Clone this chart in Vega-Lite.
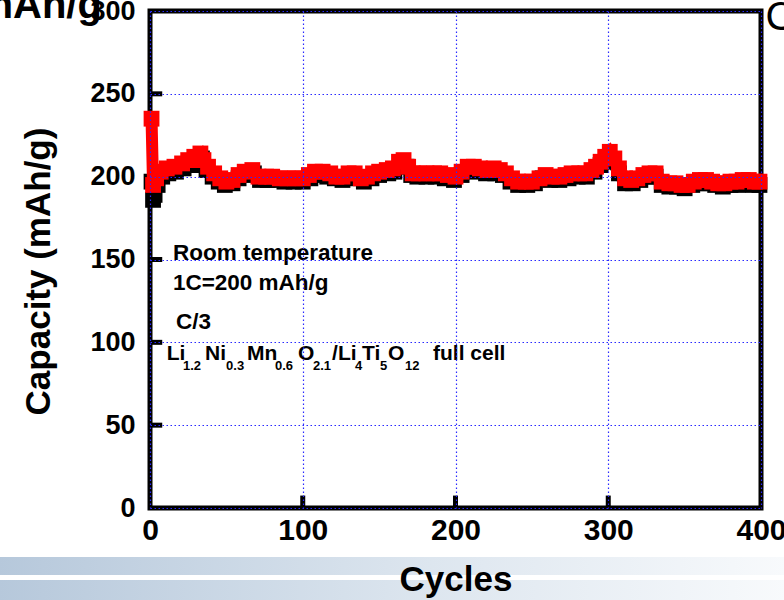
{
  "$schema": "https://vega.github.io/schema/vega-lite/v6.json",
  "width": 611,
  "height": 497,
  "autosize": {"type": "none"},
  "padding": {"left": 150, "top": 11, "right": 23, "bottom": 92},
  "background": "white",
  "config": {
    "view": {"stroke": "black", "strokeWidth": 5},
    "font": "Liberation Sans"
  },
  "datasets": {
    "red": [
      {"cycle": 1, "cap": 235}, {"cycle": 2, "cap": 195}, {"cycle": 4, "cap": 199}, {"cycle": 7, "cap": 203},
      {"cycle": 11, "cap": 205}, {"cycle": 16, "cap": 206}, {"cycle": 21, "cap": 208}, {"cycle": 25, "cap": 210},
      {"cycle": 29, "cap": 212}, {"cycle": 33, "cap": 214}, {"cycle": 35, "cap": 210}, {"cycle": 38, "cap": 206},
      {"cycle": 42, "cap": 202}, {"cycle": 46, "cap": 199}, {"cycle": 50, "cap": 197}, {"cycle": 54, "cap": 198},
      {"cycle": 58, "cap": 201}, {"cycle": 62, "cap": 203}, {"cycle": 67, "cap": 204}, {"cycle": 71, "cap": 200},
      {"cycle": 76, "cap": 200}, {"cycle": 80, "cap": 200}, {"cycle": 85, "cap": 199}, {"cycle": 90, "cap": 199},
      {"cycle": 95, "cap": 199}, {"cycle": 100, "cap": 199}, {"cycle": 104, "cap": 201}, {"cycle": 108, "cap": 203},
      {"cycle": 113, "cap": 203}, {"cycle": 118, "cap": 202}, {"cycle": 122, "cap": 200}, {"cycle": 126, "cap": 200},
      {"cycle": 130, "cap": 202}, {"cycle": 134, "cap": 202}, {"cycle": 138, "cap": 199}, {"cycle": 142, "cap": 200},
      {"cycle": 146, "cap": 202}, {"cycle": 150, "cap": 203}, {"cycle": 155, "cap": 204}, {"cycle": 159, "cap": 205},
      {"cycle": 163, "cap": 209}, {"cycle": 166, "cap": 210}, {"cycle": 169, "cap": 206}, {"cycle": 172, "cap": 202},
      {"cycle": 176, "cap": 202}, {"cycle": 181, "cap": 202}, {"cycle": 186, "cap": 202}, {"cycle": 190, "cap": 202},
      {"cycle": 195, "cap": 201}, {"cycle": 200, "cap": 200}, {"cycle": 204, "cap": 203}, {"cycle": 208, "cap": 206},
      {"cycle": 212, "cap": 206}, {"cycle": 216, "cap": 205}, {"cycle": 221, "cap": 204}, {"cycle": 225, "cap": 205},
      {"cycle": 229, "cap": 204}, {"cycle": 233, "cap": 202}, {"cycle": 237, "cap": 199}, {"cycle": 241, "cap": 197},
      {"cycle": 246, "cap": 197}, {"cycle": 250, "cap": 197}, {"cycle": 255, "cap": 199}, {"cycle": 259, "cap": 201},
      {"cycle": 263, "cap": 200}, {"cycle": 268, "cap": 200}, {"cycle": 272, "cap": 201}, {"cycle": 276, "cap": 202},
      {"cycle": 281, "cap": 202}, {"cycle": 285, "cap": 202}, {"cycle": 289, "cap": 204}, {"cycle": 292, "cap": 206},
      {"cycle": 295, "cap": 209}, {"cycle": 298, "cap": 212}, {"cycle": 301, "cap": 215}, {"cycle": 304, "cap": 211},
      {"cycle": 307, "cap": 205}, {"cycle": 311, "cap": 199}, {"cycle": 315, "cap": 198}, {"cycle": 319, "cap": 199},
      {"cycle": 323, "cap": 201}, {"cycle": 327, "cap": 202}, {"cycle": 331, "cap": 202}, {"cycle": 335, "cap": 197},
      {"cycle": 340, "cap": 196}, {"cycle": 344, "cap": 196}, {"cycle": 348, "cap": 195}, {"cycle": 352, "cap": 195},
      {"cycle": 356, "cap": 197}, {"cycle": 360, "cap": 198}, {"cycle": 364, "cap": 198}, {"cycle": 368, "cap": 197},
      {"cycle": 372, "cap": 196}, {"cycle": 376, "cap": 196}, {"cycle": 380, "cap": 197}, {"cycle": 384, "cap": 197},
      {"cycle": 388, "cap": 198}, {"cycle": 392, "cap": 198}, {"cycle": 396, "cap": 197}, {"cycle": 399, "cap": 197}
    ],
    "black": [
      {"cycle": 1, "cap": 197}, {"cycle": 2, "cap": 186}, {"cycle": 3, "cap": 189}, {"cycle": 5, "cap": 195},
      {"cycle": 8, "cap": 200}, {"cycle": 12, "cap": 202}, {"cycle": 17, "cap": 203}, {"cycle": 22, "cap": 205},
      {"cycle": 27, "cap": 207}, {"cycle": 31, "cap": 209}, {"cycle": 34, "cap": 211}, {"cycle": 37, "cap": 204},
      {"cycle": 41, "cap": 200}, {"cycle": 45, "cap": 197}, {"cycle": 49, "cap": 195}, {"cycle": 54, "cap": 196},
      {"cycle": 58, "cap": 199}, {"cycle": 63, "cap": 201}, {"cycle": 68, "cap": 202}, {"cycle": 72, "cap": 198},
      {"cycle": 77, "cap": 198}, {"cycle": 82, "cap": 198}, {"cycle": 88, "cap": 197}, {"cycle": 94, "cap": 197},
      {"cycle": 100, "cap": 197}, {"cycle": 105, "cap": 199}, {"cycle": 110, "cap": 201}, {"cycle": 116, "cap": 200},
      {"cycle": 121, "cap": 199}, {"cycle": 126, "cap": 198}, {"cycle": 131, "cap": 200}, {"cycle": 136, "cap": 199},
      {"cycle": 140, "cap": 197}, {"cycle": 145, "cap": 199}, {"cycle": 150, "cap": 201}, {"cycle": 156, "cap": 202},
      {"cycle": 160, "cap": 203}, {"cycle": 164, "cap": 207}, {"cycle": 168, "cap": 206}, {"cycle": 171, "cap": 201},
      {"cycle": 175, "cap": 200}, {"cycle": 181, "cap": 200}, {"cycle": 187, "cap": 200}, {"cycle": 193, "cap": 199},
      {"cycle": 199, "cap": 198}, {"cycle": 204, "cap": 201}, {"cycle": 209, "cap": 204}, {"cycle": 214, "cap": 203},
      {"cycle": 220, "cap": 202}, {"cycle": 226, "cap": 202}, {"cycle": 231, "cap": 201}, {"cycle": 236, "cap": 197},
      {"cycle": 241, "cap": 195}, {"cycle": 247, "cap": 195}, {"cycle": 252, "cap": 196}, {"cycle": 257, "cap": 199},
      {"cycle": 262, "cap": 198}, {"cycle": 268, "cap": 198}, {"cycle": 274, "cap": 199}, {"cycle": 280, "cap": 200},
      {"cycle": 286, "cap": 200}, {"cycle": 291, "cap": 203}, {"cycle": 295, "cap": 207}, {"cycle": 299, "cap": 211},
      {"cycle": 303, "cap": 209}, {"cycle": 307, "cap": 202}, {"cycle": 311, "cap": 196}, {"cycle": 316, "cap": 196},
      {"cycle": 321, "cap": 198}, {"cycle": 326, "cap": 200}, {"cycle": 331, "cap": 200}, {"cycle": 335, "cap": 195},
      {"cycle": 340, "cap": 194}, {"cycle": 345, "cap": 194}, {"cycle": 350, "cap": 193}, {"cycle": 355, "cap": 195},
      {"cycle": 360, "cap": 196}, {"cycle": 365, "cap": 196}, {"cycle": 370, "cap": 195}, {"cycle": 375, "cap": 194},
      {"cycle": 380, "cap": 195}, {"cycle": 385, "cap": 195}, {"cycle": 390, "cap": 196}, {"cycle": 395, "cap": 195},
      {"cycle": 399, "cap": 195}
    ],
    "band": [
      {"x1": -99, "x2": 416, "y1": -29.6, "y2": -40.4},
      {"x1": -99, "x2": 416, "y1": -43.5, "y2": -62}
    ],
    "yticks": [
      {"v": 50, "from": 0, "to": 8}, {"v": 100, "from": 0, "to": 8}, {"v": 150, "from": 0, "to": 8},
      {"v": 200, "from": 0, "to": 8}, {"v": 250, "from": 0, "to": 8}
    ],
    "xticks": [
      {"v": 100, "from": 0, "to": 7.5}, {"v": 200, "from": 0, "to": 7.5}, {"v": 300, "from": 0, "to": 7.5}
    ],
    "notes": [
      {"x": 15, "y": 154, "t": "Room temperature"},
      {"x": 15, "y": 136, "t": "1C=200 mAh/g"},
      {"x": 17, "y": 112, "t": "C/3"}
    ],
    "formula": [
      {"x": 10.9, "y": 89.3, "t": "Li"}, {"x": 36.0, "y": 89.3, "t": "Ni"}, {"x": 63.5, "y": 89.3, "t": "Mn"},
      {"x": 96.9, "y": 89.3, "t": "O"}, {"x": 119.2, "y": 89.3, "t": "/Li"}, {"x": 138.8, "y": 89.3, "t": "Ti"},
      {"x": 155.8, "y": 89.3, "t": "O"}, {"x": 185.3, "y": 89.3, "t": "full cell"}
    ],
    "subs": [
      {"x": 21.6, "y": 83.0, "t": "1.2"}, {"x": 49.8, "y": 83.0, "t": "0.3"}, {"x": 81.8, "y": 83.0, "t": "0.6"},
      {"x": 106.7, "y": 83.0, "t": "2.1"}, {"x": 134.2, "y": 83.0, "t": "4"}, {"x": 150.6, "y": 83.0, "t": "5"},
      {"x": 167.0, "y": 83.0, "t": "12"}
    ],
    "leftcut": [
      {"x": -31.5, "y": 295.8, "t": "mAh/g"}
    ],
    "rightcut": [
      {"x": 403, "y": 288.5, "t": "C"}
    ]
  },
  "encoding": {
    "x": {
      "field": "cycle", "type": "quantitative",
      "scale": {"domain": [0, 400], "nice": false, "zero": false},
      "axis": {
        "values": [0, 100, 200, 300, 400],
        "title": "Cycles",
        "titleFontSize": 35, "titleFontWeight": "bold", "titleColor": "black",
        "titleX": 305.5, "titleY": 82, "titleBaseline": "alphabetic", "titleAlign": "center",
        "labelFontSize": 30, "labelFontWeight": "bold", "labelColor": "black",
        "labelBaseline": "top", "labelPadding": 7, "labelFlush": false, "labelOverlap": false,
        "domain": false,
        "ticks": false,
        "grid": true, "gridColor": "#2a2aff", "gridDash": [1.5, 2.5], "gridWidth": 1.2,
        "zindex": 1
      }
    },
    "y": {
      "field": "cap", "type": "quantitative",
      "scale": {"domain": [0, 300], "nice": false, "zero": false},
      "axis": {
        "values": [0, 50, 100, 150, 200, 250, 300],
        "title": "Capacity (mAh/g)",
        "titleFontSize": 35, "titleFontWeight": "bold", "titleColor": "black",
        "titleAngle": -90, "titleX": -112, "titleY": 260, "titleAlign": "center", "titleBaseline": "middle",
        "labelFontSize": 27, "labelFontWeight": "bold", "labelColor": "black",
        "labelPadding": 15, "labelFlush": false, "labelOverlap": false, "labelBaseline": "middle",
        "domain": false,
        "ticks": false,
        "grid": true, "gridColor": "#2a2aff", "gridDash": [1.5, 2.5], "gridWidth": 1.2,
        "zindex": 1
      }
    }
  },
  "layer": [
    {
      "data": {"name": "band"},
      "mark": {
        "type": "rect",
        "fill": {
          "gradient": "linear", "x1": 0, "y1": 0, "x2": 1, "y2": 0,
          "stops": [
            {"offset": 0, "color": "#b6c8db"},
            {"offset": 0.55, "color": "#dde6ef"},
            {"offset": 1, "color": "#f8fafc"}
          ]
        },
        "clip": false
      },
      "encoding": {
        "x": {"field": "x1", "type": "quantitative"},
        "x2": {"field": "x2"},
        "y": {"field": "y1", "type": "quantitative"},
        "y2": {"field": "y2"}
      }
    },
    {
      "data": {"name": "yticks"},
      "mark": {"type": "rule", "color": "black", "strokeWidth": 5},
      "encoding": {
        "y": {"field": "v", "type": "quantitative"},
        "x": {"field": "from", "type": "quantitative"},
        "x2": {"field": "to"}
      }
    },
    {
      "data": {"name": "xticks"},
      "mark": {"type": "rule", "color": "black", "strokeWidth": 5},
      "encoding": {
        "x": {"field": "v", "type": "quantitative"},
        "y": {"field": "from", "type": "quantitative"},
        "y2": {"field": "to"}
      }
    },
    {
      "data": {"name": "black"},
      "mark": {"type": "line", "color": "black", "strokeWidth": 12}
    },
    {
      "data": {"name": "black"},
      "mark": {"type": "point", "shape": "square", "filled": true, "color": "black", "size": 250, "opacity": 1}
    },
    {
      "data": {"name": "red"},
      "mark": {"type": "line", "color": "#ff0000", "strokeWidth": 12}
    },
    {
      "data": {"name": "red"},
      "mark": {"type": "point", "shape": "square", "filled": true, "color": "#ff0000", "size": 250, "opacity": 1}
    },
    {
      "data": {"name": "notes"},
      "mark": {"type": "text", "align": "left", "baseline": "middle", "fontSize": 22.5, "fontWeight": "bold", "color": "black"},
      "encoding": {
        "x": {"field": "x", "type": "quantitative"},
        "y": {"field": "y", "type": "quantitative"},
        "text": {"field": "t"}
      }
    },
    {
      "data": {"name": "formula"},
      "mark": {"type": "text", "align": "left", "baseline": "alphabetic", "fontSize": 21, "fontWeight": "bold", "color": "black"},
      "encoding": {
        "x": {"field": "x", "type": "quantitative"},
        "y": {"field": "y", "type": "quantitative"},
        "text": {"field": "t"}
      }
    },
    {
      "data": {"name": "subs"},
      "mark": {"type": "text", "align": "left", "baseline": "alphabetic", "fontSize": 13, "fontWeight": "bold", "color": "black"},
      "encoding": {
        "x": {"field": "x", "type": "quantitative"},
        "y": {"field": "y", "type": "quantitative"},
        "text": {"field": "t"}
      }
    },
    {
      "data": {"name": "leftcut"},
      "mark": {"type": "text", "align": "right", "baseline": "alphabetic", "fontSize": 40, "fontWeight": "bold", "color": "black"},
      "encoding": {
        "x": {"field": "x", "type": "quantitative"},
        "y": {"field": "y", "type": "quantitative"},
        "text": {"field": "t"}
      }
    },
    {
      "data": {"name": "rightcut"},
      "mark": {"type": "text", "align": "left", "baseline": "alphabetic", "fontSize": 40, "fontWeight": "normal", "color": "black"},
      "encoding": {
        "x": {"field": "x", "type": "quantitative"},
        "y": {"field": "y", "type": "quantitative"},
        "text": {"field": "t"}
      }
    }
  ]
}
